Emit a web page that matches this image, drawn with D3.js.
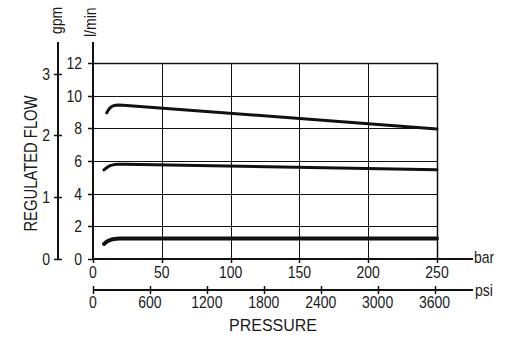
<!DOCTYPE html>
<html>
<head>
<meta charset="utf-8">
<script src="https://cdn.jsdelivr.net/npm/d3@7"></script>
<style>
  html, body { margin: 0; padding: 0; background: #fff; }
  svg { display: block; }
  text { font-family: "Liberation Sans", Arial, sans-serif; fill: #1a1a1a; }
</style>
</head>
<body>
<svg id="chart" width="512" height="341"></svg>
<script>
// Tick values for each axis
const barTicks = [0, 50, 100, 150, 200, 250];
const psiTicks = [0, 600, 1200, 1800, 2400, 3000, 3600];
const flowTicks = [0, 2, 4, 6, 8, 10, 12];
const gpmTicks = [0, 1, 2, 3];

// Regulated flow curves: pressure (bar) and flow (l/min)
const highPressure = [10, 11, 12, 13.5, 15.5, 18, 22, 250];
const highFlow     = [8.95, 9.1, 9.22, 9.33, 9.4, 9.43, 9.42, 7.96];
const midPressure  = [8, 9.5, 11, 13, 15.5, 19, 23, 250];
const midFlow      = [5.45, 5.56, 5.65, 5.73, 5.78, 5.8, 5.8, 5.46];
const lowPressure  = [8, 9.5, 11, 13, 15.5, 19, 250];
const lowFlow      = [0.92, 1.03, 1.11, 1.18, 1.23, 1.25, 1.25];

const BAR_TO_PSI = 14.5038;
const LPM_PER_GPM = 3.78541;

const svg = d3.select("#chart");

const x = d3.scaleLinear().domain([0, 250]).range([93, 437]);
const xPsi = d3.scaleLinear().domain([0, 250 * BAR_TO_PSI]).range([93, 437]);
const y = d3.scaleLinear().domain([0, 12]).range([259, 63]);
const yGpm = d3.scaleLinear().domain([0, 12 / LPM_PER_GPM]).range([259, 63]);

const ink = "#111";

// text helper: glyphs a little taller than wide
function label(px, py, str, opt) {
  opt = opt || {};
  const size = opt.size || 14;
  const sy = opt.sy || 1.17;
  const rot = opt.rotate ? ` rotate(${opt.rotate})` : "";
  svg.append("text")
    .attr("transform", `translate(${px},${py})${rot} scale(1,${sy})`)
    .attr("text-anchor", opt.anchor || "middle")
    .style("font-size", size + "px")
    .text(str);
}

// Grid
const grid = svg.append("g").attr("stroke", ink).attr("stroke-width", 1);
grid.selectAll("line.h").data(flowTicks.filter(d => d > 0)).join("line")
  .attr("x1", x(0)).attr("x2", x(250))
  .attr("y1", d => Math.round(y(d)) + 0.5).attr("y2", d => Math.round(y(d)) + 0.5);
grid.selectAll("line.v").data(barTicks.filter(d => d > 0)).join("line")
  .attr("x1", d => Math.round(x(d)) + 0.5).attr("x2", d => Math.round(x(d)) + 0.5)
  .attr("y1", y(12)).attr("y2", y(0));

// l/min axis
svg.append("line").attr("x1", 93).attr("x2", 93).attr("y1", 42).attr("y2", y(0))
  .attr("stroke", ink).attr("stroke-width", 2);
svg.selectAll("line.lt").data(flowTicks).join("line")
  .attr("x1", 88).attr("x2", 93)
  .attr("y1", d => Math.round(y(d)) + 0.5).attr("y2", d => Math.round(y(d)) + 0.5)
  .attr("stroke", ink).attr("stroke-width", 1.5);
flowTicks.forEach(d => label(82, y(d) + 6, d, { anchor: "end" }));

// gpm axis
svg.append("line").attr("x1", 58).attr("x2", 58).attr("y1", 42).attr("y2", y(0))
  .attr("stroke", ink).attr("stroke-width", 2);
svg.selectAll("line.gt").data(gpmTicks).join("line")
  .attr("x1", 54).attr("x2", 62)
  .attr("y1", d => Math.round(yGpm(d)) + 0.5).attr("y2", d => Math.round(yGpm(d)) + 0.5)
  .attr("stroke", ink).attr("stroke-width", 1.5);
gpmTicks.forEach(d => label(50, yGpm(d) + 6, d, { anchor: "end" }));

// bar axis
svg.append("line").attr("x1", 93).attr("x2", 473).attr("y1", 259).attr("y2", 259)
  .attr("stroke", ink).attr("stroke-width", 2);
svg.selectAll("line.bt").data(barTicks).join("line")
  .attr("x1", d => Math.round(x(d)) + 0.5).attr("x2", d => Math.round(x(d)) + 0.5)
  .attr("y1", 259).attr("y2", 263)
  .attr("stroke", ink).attr("stroke-width", 1.5);
barTicks.forEach(d => label(x(d), 277.5, d));
label(474, 263, "bar", { anchor: "start", sy: 1.2 });

// psi axis
svg.append("line").attr("x1", 93).attr("x2", 473).attr("y1", 290).attr("y2", 290)
  .attr("stroke", ink).attr("stroke-width", 2);
svg.selectAll("line.pt").data(psiTicks).join("line")
  .attr("x1", d => Math.round(xPsi(d)) + 0.5).attr("x2", d => Math.round(xPsi(d)) + 0.5)
  .attr("y1", 286).attr("y2", 294)
  .attr("stroke", ink).attr("stroke-width", 1.5);
psiTicks.forEach(d => label(xPsi(d), 308, d));
label(475, 296, "psi", { anchor: "start", sy: 1.2 });

// Frame top and right edges
svg.append("path")
  .attr("d", `M${x(0)},${y(12) + 0.5}H${x(250) + 0.5}V${y(0)}`)
  .attr("fill", "none").attr("stroke", ink).attr("stroke-width", 1.5);

// Axis titles
label(273, 331, "PRESSURE", { size: 16, sy: 1.02 });
label(36.5, 163.5, "REGULATED FLOW", { size: 14.8, sy: 1.22, rotate: -90 });
label(62, 34, "gpm", { anchor: "start", rotate: -90, sy: 1.2 });
label(96, 37, "l/min", { anchor: "start", rotate: -90, sy: 1.2 });

// Flow curves: short rising hook, then a straight run to 250 bar
const line = d3.line().x(d => x(d[0])).y(d => y(d[1])).curve(d3.curveLinear);
const curves = [
  { p: highPressure, f: highFlow, w: 3 },
  { p: midPressure, f: midFlow, w: 3 },
  { p: lowPressure, f: lowFlow, w: 4 }
];
curves.forEach(c => {
  svg.append("path")
    .datum(c.p.map((p, i) => [p, c.f[i]]))
    .attr("d", line)
    .attr("fill", "none")
    .attr("stroke", ink)
    .attr("stroke-width", c.w)
    .attr("stroke-linecap", "round")
    .attr("stroke-linejoin", "round");
});
</script>
</body>
</html>
